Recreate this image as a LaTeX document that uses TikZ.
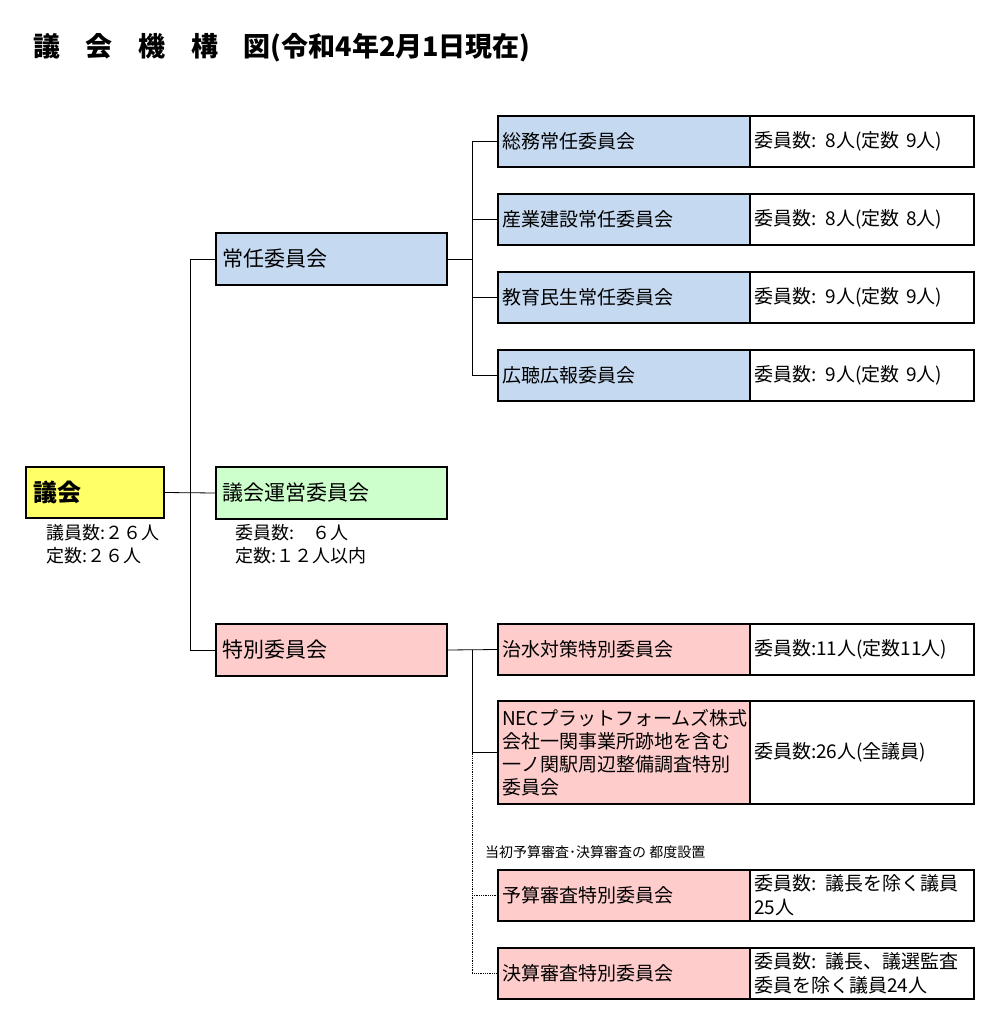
\documentclass[tikz,border=0pt]{standalone}
\usepackage{fontspec}
\setmainfont{Noto Sans CJK JP}
\usetikzlibrary{positioning}

\definecolor{jonincol}{HTML}{C5D9F1}
\definecolor{uneicol}{HTML}{CCFFCC}
\definecolor{tokucol}{HTML}{FFCCCC}
\definecolor{gikaicol}{HTML}{FFFF66}

\begin{document}
\begin{tikzpicture}[x=1pt,y=-1pt,
    box/.style={draw, line width=1.6pt, outer sep=0pt, anchor=north west, align=left, inner ysep=2pt},
    mainbox/.style={box, text width=219pt, inner xsep=6pt, minimum height=52pt, font=\fontsize{21}{24}\selectfont},
    namebox/.style={box, fill=tokucol, text width=244pt, inner xsep=4pt, minimum height=51pt, font=\fontsize{19}{23}\selectfont},
    infobox/.style={box, fill=white, text width=216pt, inner xsep=4pt, minimum height=51pt, font=\fontsize{19}{24}\selectfont},
    note/.style={anchor=north west, align=left, inner sep=0pt, font=\fontsize{18}{23}\selectfont},
    link/.style={line width=0.8pt}]
    \fill[white] (0,0) rectangle (985,1027);
    \useasboundingbox (0,0) rectangle (985,1027);

    \node[anchor=west, inner sep=0pt, font=\bfseries\fontsize{27}{29}\selectfont] (title) at (33,48)
        {議\hspace{0.95em}会\hspace{0.95em}機\hspace{0.95em}構\hspace{0.95em}図(令和4年2月1日現在)};

    % 議会
    \node[box, fill=gikaicol, text width=124pt, inner xsep=7pt, minimum height=51pt,
          font=\bfseries\fontsize{24}{26}\selectfont] (gikai) at (26,467) {議会};
    \node[note] (gikainote) at (46,524) {議員数:２６人\\定数:２６人};

    % 常任委員会, 議会運営委員会, 特別委員会
    \node[mainbox, fill=jonincol] (jonin) at (216,233) {常任委員会};
    \node[mainbox, fill=uneicol] (unei) at (216,467) {議会運営委員会};
    \node[note] (ueinote) at (235,524) {委員数:　６人\\定数:１２人以内};
    \node[mainbox, fill=tokucol] (toku) at (216,624) {特別委員会};

    \draw[link] (gikai.east) -- (unei.west);
    \draw[link] (jonin.west) -- ++(-26,0) |- (toku.west);

    % 常任委員会の内訳
    \node[namebox, fill=jonincol] (soumu) at (498,116) {総務常任委員会};
    \node[infobox] (soumuinfo) at (soumu.north east) {委員数: 8人(定数 9人)};
    \node[namebox, fill=jonincol] (sangyo) at (498,194) {産業建設常任委員会};
    \node[infobox] (sangyoinfo) at (sangyo.north east) {委員数: 8人(定数 8人)};
    \node[namebox, fill=jonincol] (kyoiku) at (498,272) {教育民生常任委員会};
    \node[infobox] (kyoikuinfo) at (kyoiku.north east) {委員数: 9人(定数 9人)};
    \node[namebox, fill=jonincol] (kocho) at (498,350) {広聴広報委員会};
    \node[infobox] (kochoinfo) at (kocho.north east) {委員数: 9人(定数 9人)};

    \draw[link] (jonin.east) -- ++(25,0) coordinate (jb);
    \draw[link] (soumu.west -| jb) -- (kocho.west -| jb);
    \foreach \n in {soumu,sangyo,kyoiku,kocho}
        \draw[link] (\n.west) -- (\n.west -| jb);

    % 特別委員会の内訳
    \node[namebox] (chisui) at (498,624) {治水対策特別委員会};
    \node[infobox] (chisuiinfo) at (chisui.north east) {委員数:11人(定数11人)};
    \node[namebox, minimum height=103pt] (nec) at (498,701)
        {NECプラットフォームズ株式\\会社一関事業所跡地を含む\\一ノ関駅周辺整備調査特別\\委員会};
    \node[infobox, minimum height=103pt] (necinfo) at (nec.north east) {委員数:26人(全議員)};
    \node[anchor=west, inner sep=0pt, font=\fontsize{14}{16}\selectfont] (tsudo) at (485,852)
        {当初予算審査･決算審査の 都度設置};
    \node[namebox] (yosan) at (498,870) {予算審査特別委員会};
    \node[infobox] (yosaninfo) at (yosan.north east) {委員数: 議長を除く議員\\25人};
    \node[namebox] (kessan) at (498,948) {決算審査特別委員会};
    \node[infobox] (kessaninfo) at (kessan.north east) {委員数: 議長、議選監査\\委員を除く議員24人};

    \draw[link] (toku.east) -- (chisui.west);
    \coordinate (tb) at ([xshift=-26pt]chisui.west);
    \draw[link] (tb) |- (nec.west);
    \draw[link, densely dotted] (nec.west -| tb) |- (kessan.west);
    \draw[link, densely dotted] (yosan.west -| tb) -- (yosan.west);
\end{tikzpicture}
\end{document}
